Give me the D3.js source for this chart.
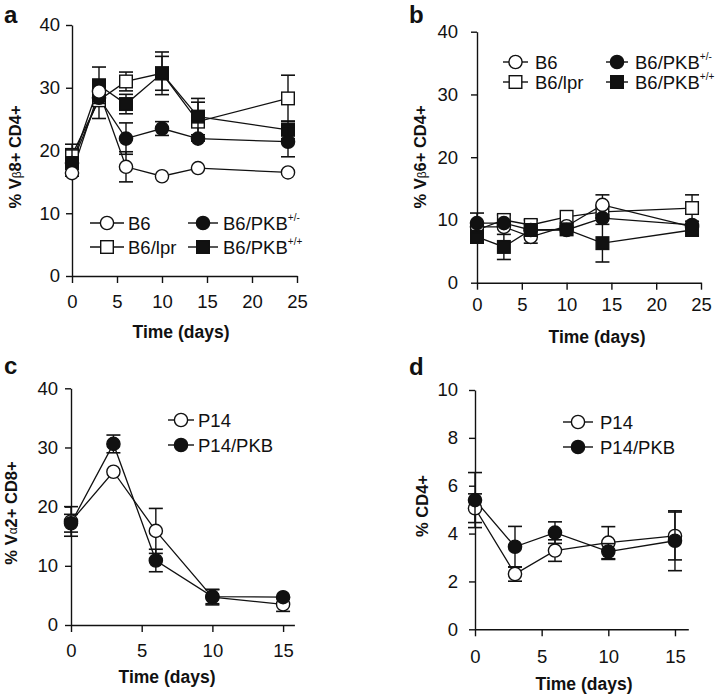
<!DOCTYPE html>
<html><head><meta charset="utf-8">
<script src="https://cdn.jsdelivr.net/npm/d3@7"></script>
<style>
html,body{margin:0;padding:0;background:#fff;}
svg text{font-family:"Liberation Sans",Arial,Helvetica,sans-serif;fill:#111;}
</style>
</head><body>
<svg id="chart" width="720" height="700"></svg>
<script>
// ---------- DATA ----------
const daysAB = [0, 3, 6, 10, 14, 24];
const daysCD = [0, 3, 6, 10, 15];

// Panel a: % Vβ8+ CD4+
const aB6 = [16.4, 29.4, 17.4, 15.9, 17.2, 16.5];
const aB6Err = [0, 0, 2.4, 0, 0, 0];
const aLpr = [19.3, 28.0, 31.0, 32.3, 24.6, 28.3];
const aLprErr = [1.7, 2.9, 1.5, 2.7, 3.1, 3.7];
const aHet = [18.0, 28.4, 21.9, 23.5, 21.9, 21.4];
const aHetErr = [0, 0, 2.5, 1.1, 0, 2.4];
const aHom = [18.0, 30.4, 27.4, 32.3, 25.4, 23.3];
const aHomErr = [2.1, 2.9, 1.55, 3.4, 2.9, 1.4];

// Panel b: % Vβ6+ CD4+
const bB6 = [8.9, 8.9, 7.3, 9.0, 12.4, 8.9];
const bB6Err = [0, 0, 1.0, 0, 1.6, 0];
const bLpr = [8.4, 10.0, 9.2, 10.5, 11.3, 11.9];
const bLprErr = [0, 0.8, 0.8, 0, 0, 2.1];
const bHet = [9.5, 9.5, 8.4, 8.4, 10.3, 9.2];
const bHetErr = [1.6, 0, 0, 0, 0, 0];
const bHom = [7.3, 5.7, 8.4, 8.5, 6.3, 8.4];
const bHomErr = [1.0, 2.0, 0, 0, 3.0, 0];

// Panel c: % Vα2+ CD8+
const cP14 = [17.5, 25.9, 15.9, 4.7, 3.5];
const cP14Err = [2.5, 0, 3.8, 1.3, 1.2];
const cPKB = [17.2, 30.6, 10.9, 4.8, 4.7];
const cPKBErr = [1.5, 1.5, 1.9, 1.2, 0];

// Panel d: % CD4+
const dP14 = [5.06, 2.31, 3.29, 3.62, 3.9];
const dP14Err = [0.6, 0.3, 0.45, 0.67, 1.0];
const dPKB = [5.4, 3.45, 4.04, 3.25, 3.7];
const dPKBErr = [1.15, 0.85, 0.45, 0.33, 1.25];

const ticksX25 = [0, 5, 10, 15, 20, 25];
const ticksX15 = [0, 5, 10, 15];
const ticksY40 = [0, 10, 20, 30, 40];
const ticksY10 = [0, 2, 4, 6, 8, 10];

// ---------- DRAW ----------
const svg = d3.select("#chart");
const FS = 18.5;

function panel(cfg) {
  const g = svg.append("g");
  const x = d3.scaleLinear().domain(cfg.xDomain).range(cfg.xRange);
  const y = d3.scaleLinear().domain(cfg.yDomain).range(cfg.yRange);

  const xa = g.append("g").attr("transform", `translate(0,${cfg.yRange[0]})`)
    .call(d3.axisBottom(x).tickValues(cfg.xTicks).tickSize(7).tickSizeOuter(0).tickPadding(cfg.xPad).tickFormat(d3.format("d")));
  const ya = g.append("g").attr("transform", `translate(${cfg.xRange[0]},0)`)
    .call(d3.axisLeft(y).tickValues(cfg.yTicks).tickSize(6).tickSizeOuter(0).tickPadding(cfg.yPad).tickFormat(d3.format("d")));
  [xa, ya].forEach(a => {
    a.selectAll("path,line").attr("stroke", "#111").attr("stroke-width", 1.4);
    a.selectAll("text").attr("font-size", FS).attr("fill", "#111")
      .style("font-family", '"Liberation Sans",Arial,sans-serif');
  });

  const line = d3.line().x(d => x(d[0])).y(d => y(d[1]));
  cfg.series.forEach(s => {
    const pts = s.x.map((v, i) => [v, s.v[i], s.e[i]]);
    g.append("path").datum(pts).attr("d", line)
      .attr("fill", "none").attr("stroke", "#111").attr("stroke-width", 1.3);
  });
  cfg.series.forEach(s => {
    const pts = s.x.map((v, i) => [v, s.v[i], s.e[i]]);
    const eb = g.append("g");
    pts.filter(p => p[2] > 0).forEach(p => {
      const cx = x(p[0]), y1 = y(p[1] + p[2]), y2 = y(p[1] - p[2]);
      eb.append("line").attr("x1", cx).attr("x2", cx).attr("y1", y1).attr("y2", y2)
        .attr("stroke", "#111").attr("stroke-width", 1.4);
      [y1, y2].forEach(yy => eb.append("line").attr("x1", cx - 7).attr("x2", cx + 7)
        .attr("y1", yy).attr("y2", yy).attr("stroke", "#111").attr("stroke-width", 1.6));
    });
    pts.forEach(p => marker(g, x(p[0]), y(p[1]), s.shape, s.filled));
  });

  // legend
  cfg.legend.forEach(l => {
    g.append("line").attr("x1", l.x1).attr("x2", l.x2).attr("y1", l.y).attr("y2", l.y)
      .attr("stroke", "#111").attr("stroke-width", 1.4);
    marker(g, (l.x1 + l.x2) / 2, l.y, l.shape, l.filled);
    const t = g.append("text").attr("x", l.tx).attr("y", l.y).attr("dy", "0.36em")
      .attr("font-size", 18.5);
    t.append("tspan").text(l.label);
    if (l.sup) t.append("tspan").attr("font-size", 10).attr("dy", "-0.85em").text(l.sup);
  });

  // axis titles
  g.append("text").attr("x", cfg.xt[0]).attr("y", cfg.xt[1]).attr("text-anchor", "middle")
    .attr("font-size", 17.5).attr("font-weight", "bold").text("Time (days)");
  const yt = g.append("text").attr("transform", `translate(${cfg.yt[0]},${cfg.yt[1]}) rotate(-90)`)
    .attr("text-anchor", "middle").attr("font-size", 16.5).attr("font-weight", "bold");
  cfg.ytitle.forEach(p => {
    const ts = yt.append("tspan").text(p.t);
    if (p.small) ts.attr("font-size", 12).attr("font-weight", "normal");
  });
  // panel letter
  g.append("text").attr("x", cfg.lab[0]).attr("y", cfg.lab[1]).attr("font-size", 24)
    .attr("font-weight", "bold").text(cfg.letter);
}

function marker(g, cx, cy, shape, filled) {
  const fill = filled ? "#111" : "#fff";
  if (shape === "circle") {
    g.append("circle").attr("cx", cx).attr("cy", cy).attr("r", 6.6)
      .attr("fill", fill).attr("stroke", "#111").attr("stroke-width", 1.4);
  } else {
    g.append("rect").attr("x", cx - 6.3).attr("y", cy - 6.3).attr("width", 12.6).attr("height", 12.6)
      .attr("fill", fill).attr("stroke", "#111").attr("stroke-width", 1.4);
  }
}

// Panel a
panel({
  letter: "a", lab: [4, 23],
  xDomain: [0, 25], xRange: [72, 297], yDomain: [0, 40], yRange: [276, 25],
  xTicks: ticksX25, yTicks: ticksY40, xPad: 12, yPad: 6,
  xt: [181, 338], yt: [21, 157],
  ytitle: [{t: "% V"}, {t: "β", small: true}, {t: "8+ CD4+"}],
  series: [
    {x: daysAB, v: aLpr, e: aLprErr, shape: "square", filled: false},
    {x: daysAB, v: aHom, e: aHomErr, shape: "square", filled: true},
    {x: daysAB, v: aHet, e: aHetErr, shape: "circle", filled: true},
    {x: daysAB, v: aB6, e: aB6Err, shape: "circle", filled: false}
  ],
  legend: [
    {x1: 90, x2: 124, y: 223, tx: 128, shape: "circle", filled: false, label: "B6"},
    {x1: 90, x2: 124, y: 247, tx: 128, shape: "square", filled: false, label: "B6/lpr"},
    {x1: 188, x2: 218, y: 223, tx: 223, shape: "circle", filled: true, label: "B6/PKB", sup: "+/-"},
    {x1: 188, x2: 218, y: 247, tx: 223, shape: "square", filled: true, label: "B6/PKB", sup: "+/+"}
  ]
});

// Panel b
panel({
  letter: "b", lab: [409, 23],
  xDomain: [0, 25], xRange: [477, 701], yDomain: [0, 40], yRange: [282.7, 31.7],
  xTicks: ticksX25, yTicks: ticksY40, xPad: 8, yPad: 13,
  xt: [597, 343], yt: [426, 157],
  ytitle: [{t: "% V"}, {t: "β", small: true}, {t: "6+ CD4+"}],
  series: [
    {x: daysAB, v: bLpr, e: bLprErr, shape: "square", filled: false},
    {x: daysAB, v: bB6, e: bB6Err, shape: "circle", filled: false},
    {x: daysAB, v: bHom, e: bHomErr, shape: "square", filled: true},
    {x: daysAB, v: bHet, e: bHetErr, shape: "circle", filled: true}
  ],
  legend: [
    {x1: 503, x2: 528, y: 62, tx: 535, shape: "circle", filled: false, label: "B6"},
    {x1: 503, x2: 528, y: 82, tx: 535, shape: "square", filled: false, label: "B6/lpr"},
    {x1: 606, x2: 628, y: 62, tx: 635, shape: "circle", filled: true, label: "B6/PKB", sup: "+/-"},
    {x1: 606, x2: 628, y: 82, tx: 635, shape: "square", filled: true, label: "B6/PKB", sup: "+/+"}
  ]
});

// Panel c
panel({
  letter: "c", lab: [4, 374],
  xDomain: [0, 15.8], xRange: [71, 294.4], yDomain: [0, 40], yRange: [625, 388.3],
  xTicks: ticksX15, yTicks: ticksY40, xPad: 12, yPad: 7,
  xt: [167, 683], yt: [17, 513],
  ytitle: [{t: "% V"}, {t: "α", small: true}, {t: "2+ CD8+"}],
  series: [
    {x: daysCD, v: cP14, e: cP14Err, shape: "circle", filled: false},
    {x: daysCD, v: cPKB, e: cPKBErr, shape: "circle", filled: true}
  ],
  legend: [
    {x1: 168, x2: 194, y: 420, tx: 198, shape: "circle", filled: false, label: "P14"},
    {x1: 168, x2: 194, y: 445, tx: 198, shape: "circle", filled: true, label: "P14/PKB"}
  ]
});

// Panel d
panel({
  letter: "d", lab: [409, 375],
  xDomain: [0, 16], xRange: [475, 688.3], yDomain: [0, 10], yRange: [629.3, 390],
  xTicks: ticksX15, yTicks: ticksY10, xPad: 14, yPad: 11,
  xt: [584, 690], yt: [428, 506],
  ytitle: [{t: "% CD4+"}],
  series: [
    {x: daysCD, v: dP14, e: dP14Err, shape: "circle", filled: false},
    {x: daysCD, v: dPKB, e: dPKBErr, shape: "circle", filled: true}
  ],
  legend: [
    {x1: 563, x2: 593, y: 422, tx: 600, shape: "circle", filled: false, label: "P14"},
    {x1: 563, x2: 593, y: 447, tx: 600, shape: "circle", filled: true, label: "P14/PKB"}
  ]
});
</script>
</body></html>
